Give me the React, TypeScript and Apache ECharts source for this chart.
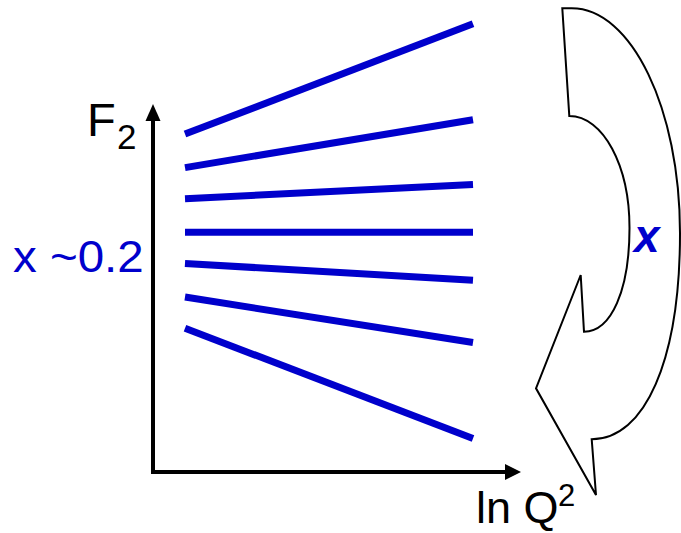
import React, { useEffect, useRef } from "react";
import * as echarts from "echarts";

// ln Q^2 positions where each F2 segment starts and ends
const lnQ2Ends = [1, 10];
// F2 values at the low and high ln Q^2 ends, one entry per x bin (high x at the bottom)
const f2Low = [1.41, 1.27, 1.14, 1.0, 0.87, 0.73, 0.6];
const f2High = [1.87, 1.47, 1.2, 1.0, 0.8, 0.54, 0.14];

const BLUE = "#0000CC";
const FONT = '"Liberation Sans", Arial, sans-serif';

// curved arrow beside the fan of lines, pointing from high x at the top to low x at the bottom
const ARROW_D =
  "M562.3 8.3 L571.7 8.3 C631.5 8.3 680 108.9 680 233 C680 361 644.7 439.3 591.7 439.3 " +
  "L596 495 L536 388.3 L580.7 275 L584 331.7 C611.3 331.7 629.5 290.2 629.5 228 " +
  "C629.5 165.3 603 116 569.3 116 Z";

echarts.graphic.registerShape("curvedArrow", echarts.graphic.extendPath(ARROW_D, {}) as any);

export default function App() {
  const ref = useRef<HTMLDivElement>(null);

  useEffect(() => {
    document.body.style.margin = "0";
    const chart = echarts.init(ref.current!, null, { renderer: "svg" });

    const axisCommon = {
      type: "value" as const,
      axisTick: { show: false },
      axisLabel: { show: false },
      splitLine: { show: false },
    };

    chart.setOption({
      animation: false,
      backgroundColor: "#ffffff",
      grid: { left: 153, top: 112.5, right: 168, bottom: 61, containLabel: false },
      xAxis: {
        ...axisCommon,
        min: 0,
        max: 11.25,
        axisLine: {
          show: true,
          symbol: ["none", "triangle"],
          symbolSize: [16, 16],
          lineStyle: { color: "#000", width: 4, cap: "square" },
        },
      },
      yAxis: {
        ...axisCommon,
        min: 0,
        max: 1.5,
        axisLine: {
          show: true,
          symbol: ["none", "triangle"],
          symbolSize: [15, 17],
          lineStyle: { color: "#000", width: 4, cap: "square" },
        },
      },
      series: f2Low.map((lo, i) => ({
        type: "line",
        data: [
          [lnQ2Ends[0], lo],
          [lnQ2Ends[1], f2High[i]],
        ],
        showSymbol: false,
        clip: false,
        silent: true,
        lineStyle: { color: BLUE, width: 7, cap: "butt" },
      })),
      graphic: [
        {
          type: "text",
          x: 87,
          y: 119,
          style: { text: "F", fontSize: 47, fontFamily: FONT, fill: "#000", verticalAlign: "middle" },
        },
        {
          type: "text",
          x: 117,
          y: 136,
          style: { text: "2", fontSize: 35, fontFamily: FONT, fill: "#000", verticalAlign: "middle" },
        },
        {
          type: "text",
          x: 13,
          y: 257.5,
          scaleX: 1.08,
          style: { text: "x ~0.2", fontSize: 44, fontFamily: FONT, fill: BLUE, verticalAlign: "middle" },
        },
        {
          type: "text",
          x: 476,
          y: 507.9,
          style: {
            text: "ln Q",
            fontSize: 45,
            fontFamily: FONT,
            fill: "#000",
            verticalAlign: "middle",
          },
        },
        {
          type: "text",
          x: 558,
          y: 495,
          style: { text: "2", fontSize: 31, fontFamily: FONT, fill: "#000", verticalAlign: "middle" },
        },
        {
          type: "text",
          x: 634,
          y: 236,
          style: {
            text: "x",
            fontSize: 46,
            fontFamily: FONT,
            fontWeight: "bold",
            fontStyle: "italic",
            fill: BLUE,
            verticalAlign: "middle",
          },
        },
        {
          type: "curvedArrow",
          x: 0,
          y: 0,
          style: { fill: "none", stroke: "#000", lineWidth: 2, lineJoin: "miter" },
        },
      ],
    });

    return () => chart.dispose();
  }, []);

  return (
    <div
      ref={ref}
      style={{ position: "fixed", left: 0, top: 0, width: 681, height: 533 }}
    />
  );
}
